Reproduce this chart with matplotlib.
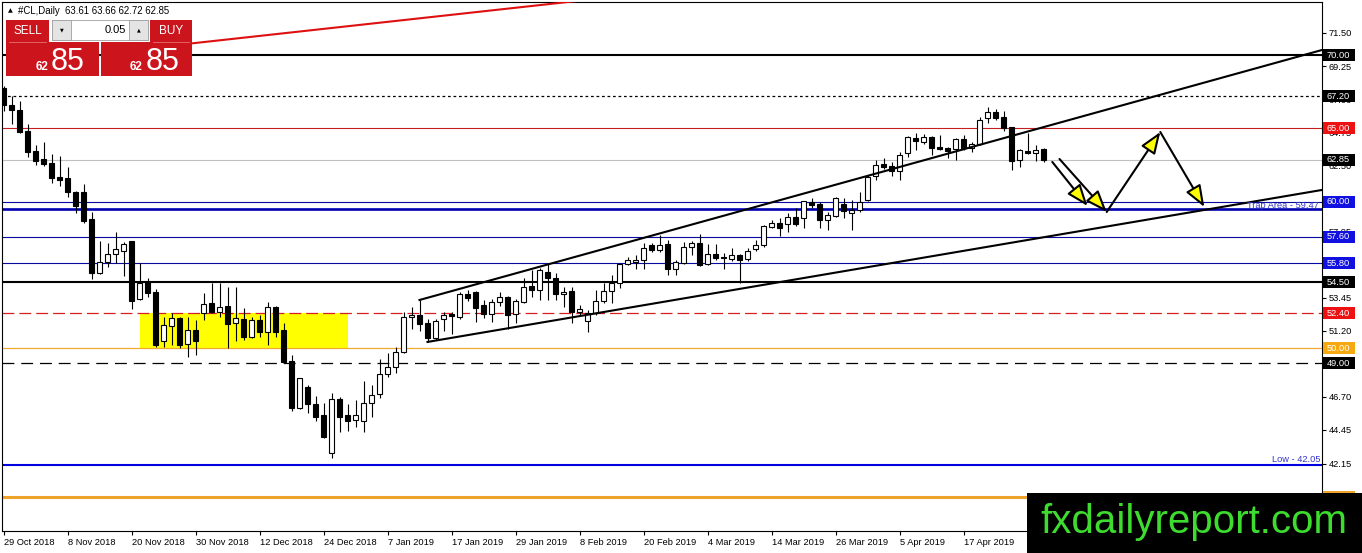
import matplotlib
matplotlib.use('Agg')
import matplotlib.pyplot as plt
from matplotlib.patches import Rectangle, FancyArrowPatch
from matplotlib.transforms import blended_transform_factory
import numpy as np

plt.rcParams['font.family'] = ['Liberation Sans', 'DejaVu Sans']

# ---------------- data ----------------
opens = [67.75, 66.59, 66.25, 64.82, 63.46, 62.91, 62.64, 61.68, 61.62, 60.66,
         60.66, 58.82, 55.14, 55.89, 56.43, 56.64, 57.32, 53.37, 54.53, 53.84,
         50.50, 51.53, 52.07, 50.30, 51.25, 52.41, 53.09, 52.48, 52.89, 51.73,
         52.00, 50.78, 51.93, 51.12, 52.82, 51.25, 49.14, 45.94, 47.37, 46.21,
         45.46, 42.87, 46.55, 45.46, 45.12, 45.05, 46.28, 46.89, 48.25, 48.73,
         49.75, 52.14, 52.28, 51.73, 50.71, 52.00, 52.34, 52.14, 53.71, 53.84,
         52.96, 52.34, 53.16, 53.50, 52.34, 53.16, 54.25, 53.98, 55.21, 54.80,
         53.71, 53.91, 52.48, 51.87, 52.41, 53.23, 53.91, 54.46, 55.75, 55.89,
         56.03, 57.05, 56.71, 57.12, 55.41, 55.82, 56.91, 57.18, 55.75, 56.43,
         56.23, 56.09, 56.37, 56.09, 56.77, 57.05, 58.27, 58.55, 58.48, 58.96,
         58.89, 59.98, 59.84, 58.75, 59.02, 59.84, 59.23, 59.43, 60.12, 61.75,
         62.57, 62.43, 62.09, 63.32, 64.34, 64.07, 64.41, 63.73, 63.66, 63.59,
         64.27, 63.66, 63.93, 65.71, 66.11, 65.77, 65.09, 62.84, 63.46, 63.32,
         63.61]
highs = [67.89, 67.20, 66.86, 65.30, 63.86, 64.07, 63.25, 63.11, 62.36, 60.70,
         61.21, 59.30, 57.32, 57.18, 57.93, 57.25, 57.35, 55.82, 54.80, 54.05,
         52.14, 52.41, 52.14, 52.14, 51.93, 53.78, 54.46, 54.46, 54.18, 54.18,
         52.75, 52.14, 52.28, 53.16, 52.89, 51.73, 49.55, 48.00, 47.50, 46.75,
         46.28, 46.96, 46.69, 46.21, 46.48, 47.78, 47.50, 49.28, 49.69, 50.09,
         52.48, 52.82, 53.30, 52.00, 52.00, 52.48, 52.48, 53.84, 53.98, 53.91,
         53.30, 53.37, 53.84, 53.57, 53.37, 54.80, 55.34, 55.48, 55.75, 55.14,
         54.18, 54.18, 52.96, 52.62, 53.98, 54.46, 55.00, 55.82, 56.23, 56.37,
         57.18, 57.18, 57.73, 57.39, 56.03, 57.25, 57.32, 57.80, 57.12, 57.12,
         56.50, 56.84, 56.43, 56.84, 57.39, 58.38, 58.75, 58.89, 59.23, 59.57,
         60.08, 60.25, 59.98, 59.30, 60.32, 60.25, 60.12, 60.66, 61.82, 62.84,
         62.98, 62.71, 63.39, 64.45, 64.68, 64.61, 64.45, 64.55, 63.73, 64.34,
         64.55, 64.07, 65.77, 66.46, 66.32, 66.18, 65.12, 63.59, 64.68, 63.86,
         63.66]
lows = [66.18, 65.30, 64.68, 63.05, 62.50, 62.43, 61.27, 61.07, 60.32, 59.23,
        58.55, 54.73, 55.05, 55.55, 55.82, 54.93, 52.68, 53.30, 53.50, 50.09,
        50.09, 50.23, 50.03, 49.41, 49.55, 51.93, 52.41, 52.14, 50.03, 50.50,
        50.57, 50.71, 50.78, 50.23, 50.78, 49.00, 45.73, 45.90, 45.60, 45.05,
        43.90, 42.53, 44.30, 44.37, 44.64, 44.30, 45.32, 46.62, 48.05, 48.32,
        49.69, 51.32, 51.18, 50.44, 50.57, 51.18, 50.98, 52.00, 53.23, 51.80,
        52.07, 51.80, 52.89, 51.32, 51.73, 53.09, 53.50, 53.30, 53.30, 53.30,
        52.82, 51.73, 52.28, 51.12, 52.28, 53.09, 53.09, 54.12, 55.68, 55.41,
        55.41, 56.57, 56.57, 55.00, 55.00, 55.75, 56.37, 55.61, 55.70, 56.03,
        55.41, 55.96, 54.46, 55.96, 56.64, 56.91, 58.21, 57.66, 57.93, 58.35,
        58.21, 59.57, 58.21, 58.07, 58.96, 58.89, 58.07, 59.30, 60.05, 61.48,
        62.23, 61.75, 61.48, 63.05, 63.52, 63.93, 63.18, 63.52, 62.98, 62.84,
        63.52, 63.39, 63.86, 65.36, 65.57, 64.82, 62.16, 62.36, 63.25, 62.77,
        62.72]
closes = [66.59, 66.25, 64.75, 63.39, 62.77, 62.57, 61.62, 61.48, 60.66, 59.71,
          58.68, 55.14, 55.89, 56.43, 56.77, 57.12, 53.23, 54.46, 53.78, 50.23,
          51.59, 52.07, 50.23, 51.25, 50.50, 53.03, 52.48, 52.82, 51.66, 52.07,
          50.78, 51.93, 51.12, 52.82, 51.12, 49.07, 45.94, 47.98, 46.21, 45.32,
          43.96, 46.55, 45.32, 45.05, 45.46, 46.28, 46.82, 48.25, 48.73, 49.75,
          52.14, 52.28, 51.66, 50.71, 51.87, 52.28, 52.21, 53.71, 53.43, 52.75,
          52.34, 53.16, 53.50, 52.28, 53.23, 54.18, 53.98, 55.34, 54.80, 53.71,
          53.84, 52.48, 52.68, 52.41, 53.23, 53.91, 54.46, 55.75, 56.03, 56.03,
          56.84, 56.71, 57.05, 55.41, 55.89, 56.91, 57.18, 55.68, 56.43, 56.16,
          56.16, 56.37, 56.03, 56.64, 57.05, 58.34, 58.55, 58.21, 58.96, 58.48,
          60.05, 59.77, 58.75, 59.09, 60.25, 59.37, 59.43, 59.98, 61.68, 62.50,
          62.36, 62.09, 63.18, 64.41, 64.14, 64.41, 63.66, 63.59, 63.46, 64.27,
          63.66, 63.93, 65.57, 66.11, 65.71, 65.02, 62.77, 63.52, 63.32, 63.52,
          62.85]

date_labels = ['29 Oct 2018', '8 Nov 2018', '20 Nov 2018', '30 Nov 2018', '12 Dec 2018',
               '24 Dec 2018', '7 Jan 2019', '17 Jan 2019', '29 Jan 2019', '8 Feb 2019',
               '20 Feb 2019', '4 Mar 2019', '14 Mar 2019', '26 Mar 2019', '5 Apr 2019',
               '17 Apr 2019']
date_tick_idx = [0, 8, 16, 24, 32, 40, 48, 56, 64, 72, 80, 88, 96, 104, 112, 120]

price_ticks = [71.50, 69.25, 67.00, 64.75, 62.50, 60.25, 57.95, 55.70, 53.45,
               51.20, 48.95, 46.70, 44.45, 42.15, 39.90]

# horizontal levels: (price, color, width, style, label box color)
levels = [
    (70.00, '#000000', 1.5, '-', '#000000'),
    (67.20, '#000000', 0.9, (0, (2.2, 2.2)), '#000000'),
    (65.00, '#c41e1e', 0.8, '-', '#ee1111'),
    (62.85, '#c0c0c0', 0.8, '-', '#000000'),
    (60.00, '#0a0aa0', 0.8, '-', '#1010e0'),
    (59.47, '#0000b0', 1.9, '-', None),
    (57.60, '#0a0aa0', 0.8, '-', '#1010e0'),
    (55.80, '#0a0aa0', 0.8, '-', '#1010e0'),
    (54.50, '#000000', 1.5, '-', '#000000'),
    (52.40, '#d42020', 0.9, (0, (9.5, 4.0)), '#ee1111'),
    (50.00, '#f0ac30', 0.9, '-', '#f5a810'),
    (49.00, '#000000', 0.9, (0, (9.5, 5.5)), '#000000'),
    (42.05, '#0000e0', 1.5, '-', None),
    (39.85, '#eea32a', 2.2, '-', '#eea32a'),
]

# drawn objects (bar index, price)
red_line_x = [20, 76]
red_line_y = [70.58, 73.94]
chan_up_x = [52, 164.8]
chan_up_y = [53.30, 70.34]
chan_lo_x = [53, 164.8]
chan_lo_y = [50.44, 60.80]
zone_x = [17, 43]
zone_y = [50.00, 52.40]
arrows = [((131.1, 62.71), (135.5, 59.71)),
          ((132.0, 62.91), (137.9, 59.30)),
          ((137.9, 59.30), (144.6, 64.75)),
          ((144.6, 64.75), (150.1, 59.64))]

# ---------------- figure ----------------
W, H = 1362, 553
fig = plt.figure(figsize=(W / 100, H / 100), dpi=100)
fig.patch.set_facecolor('white')
ax = fig.add_axes([2 / W, 1 - 531 / H, 1320 / W, 529 / H])
ax.set_xlim(-0.1875, 164.8125)
ax.set_ylim(37.553, 73.613)

n = len(opens)
idx = np.arange(n)
o = np.array(opens); c = np.array(closes)
h = np.array(highs); l = np.array(lows)

# zone
ax.add_patch(Rectangle((zone_x[0], zone_y[0]), zone_x[1] - zone_x[0], zone_y[1] - zone_y[0],
                       facecolor='#ffff00', edgecolor='none', zorder=1))

for p, col, lw, ls, box in levels:
    ax.axhline(p, color=col, lw=lw, linestyle=ls, zorder=2)

# candles
ax.vlines(idx, l, h, color='black', lw=0.8, zorder=3)
bull = c >= o
bottom = np.minimum(o, c)
height = np.maximum(np.abs(c - o), 0.06)
ax.bar(idx[bull], height[bull], bottom=bottom[bull], width=0.64, facecolor='white',
       edgecolor='black', linewidth=0.8, zorder=4)
ax.bar(idx[~bull], height[~bull], bottom=bottom[~bull], width=0.64, facecolor='black',
       edgecolor='black', linewidth=0.8, zorder=4)

# trend lines
ax.plot(red_line_x, red_line_y, color='#dd1111', lw=1.5, zorder=5, solid_capstyle='butt')
ax.plot(chan_up_x, chan_up_y, color='black', lw=1.5, zorder=5)
ax.plot(chan_lo_x, chan_lo_y, color='black', lw=1.5, zorder=5)

for a, b in arrows:
    ax.add_patch(FancyArrowPatch(a, b, arrowstyle='-|>,head_length=1.1,head_width=0.42',
                                 mutation_scale=12, lw=1.5, facecolor='#ffff00',
                                 edgecolor='black', shrinkA=0, shrinkB=0, zorder=6))

ax.text(164.4, 59.76, 'Trap Area - 59.47', ha='right', va='center', color='#3535c8',
        fontsize=6.7, zorder=6)
ax.text(164.6, 42.45, 'Low - 42.05', ha='right', va='center', color='#3535c8',
        fontsize=6.7, zorder=6)

# axes styling
ax.yaxis.tick_right()
ax.set_yticks(price_ticks)
ax.set_yticklabels([f'{v:.2f}' for v in price_ticks])
ax.set_xticks(date_tick_idx)
ax.set_xticklabels(date_labels, ha='left')
ax.tick_params(axis='y', length=3, width=0.8, labelsize=6.7, pad=2, colors='black')
ax.tick_params(axis='x', length=3, width=0.8, labelsize=6.7, pad=2)
for s in ax.spines.values():
    s.set_color('black'); s.set_linewidth(0.8)

# price boxes on the right axis
tb = blended_transform_factory(ax.transAxes, ax.transData)
box_h = 12 / 14.67
for p, col, lw, ls, box in levels:
    if box is None:
        continue
    ax.add_patch(Rectangle((1.00076, p - box_h / 2), 0.02424, box_h, transform=tb,
                           facecolor=box, edgecolor='none', clip_on=False, zorder=10))
    ax.text(1.0033, p, f'{p:.2f}', transform=tb, ha='left', va='center', color='white',
            fontsize=6.7, clip_on=False, zorder=11)

# ---------------- overlay (pixel coords) ----------------
ov = fig.add_axes([0, 0, 1, 1], zorder=10)
ov.set_xlim(0, W); ov.set_ylim(H, 0); ov.axis('off')

ov.text(10, 11, '\u25b2', fontsize=4.5, ha='center', va='center', family='DejaVu Sans')
ov.text(18, 11, '#CL,Daily  63.61 63.66 62.72 62.85', fontsize=6.9, ha='left', va='center')

red = '#cc141c'
ov.add_patch(Rectangle((6, 20), 43, 22, facecolor=red, edgecolor='none'))
ov.add_patch(Rectangle((150, 20), 42, 22, facecolor=red, edgecolor='none'))
ov.plot([9, 46], [41.5, 41.5], color='#e87070', lw=0.6)
ov.plot([153, 189], [41.5, 41.5], color='#e87070', lw=0.6)
ov.text(27.5, 31, 'SELL', color='white', fontsize=8.5, ha='center', va='center')
ov.text(171, 31, 'BUY', color='white', fontsize=8.5, ha='center', va='center')
ov.add_patch(Rectangle((52, 20), 96, 20, facecolor='white', edgecolor='#a0a0a0', lw=0.6))
ov.add_patch(Rectangle((52, 20), 19, 20, facecolor='#e4e4e4', edgecolor='#a0a0a0', lw=0.6))
ov.add_patch(Rectangle((129, 20), 19, 20, facecolor='#e4e4e4', edgecolor='#a0a0a0', lw=0.6))
ov.text(61.5, 30, '\u25bc', fontsize=3.5, ha='center', va='center', family='DejaVu Sans')
ov.text(138.5, 30, '\u25b2', fontsize=3.5, ha='center', va='center', family='DejaVu Sans')
ov.text(126, 30, '0.05', fontsize=8, ha='right', va='center')
ov.add_patch(Rectangle((6, 42), 93, 34, facecolor=red, edgecolor='none'))
ov.add_patch(Rectangle((101, 42), 91, 34, facecolor=red, edgecolor='none'))
ov.text(48, 70, '62', color='white', fontsize=8.5, fontweight='bold', ha='right', va='baseline')
ov.text(51, 70, '85', color='white', fontsize=22, ha='left', va='baseline')
ov.text(143, 70, '62', color='white', fontsize=8.5, fontweight='bold', ha='right', va='baseline')
ov.text(146, 70, '85', color='white', fontsize=22, ha='left', va='baseline')

# banner
ov.add_patch(Rectangle((1027, 493), 335, 60, facecolor='black', edgecolor='none'))
ov.text(1194, 522, 'fxdailyreport.com', color='#3ddc2e', fontsize=29, ha='center', va='center')

fig.savefig('out.png', dpi=100)
